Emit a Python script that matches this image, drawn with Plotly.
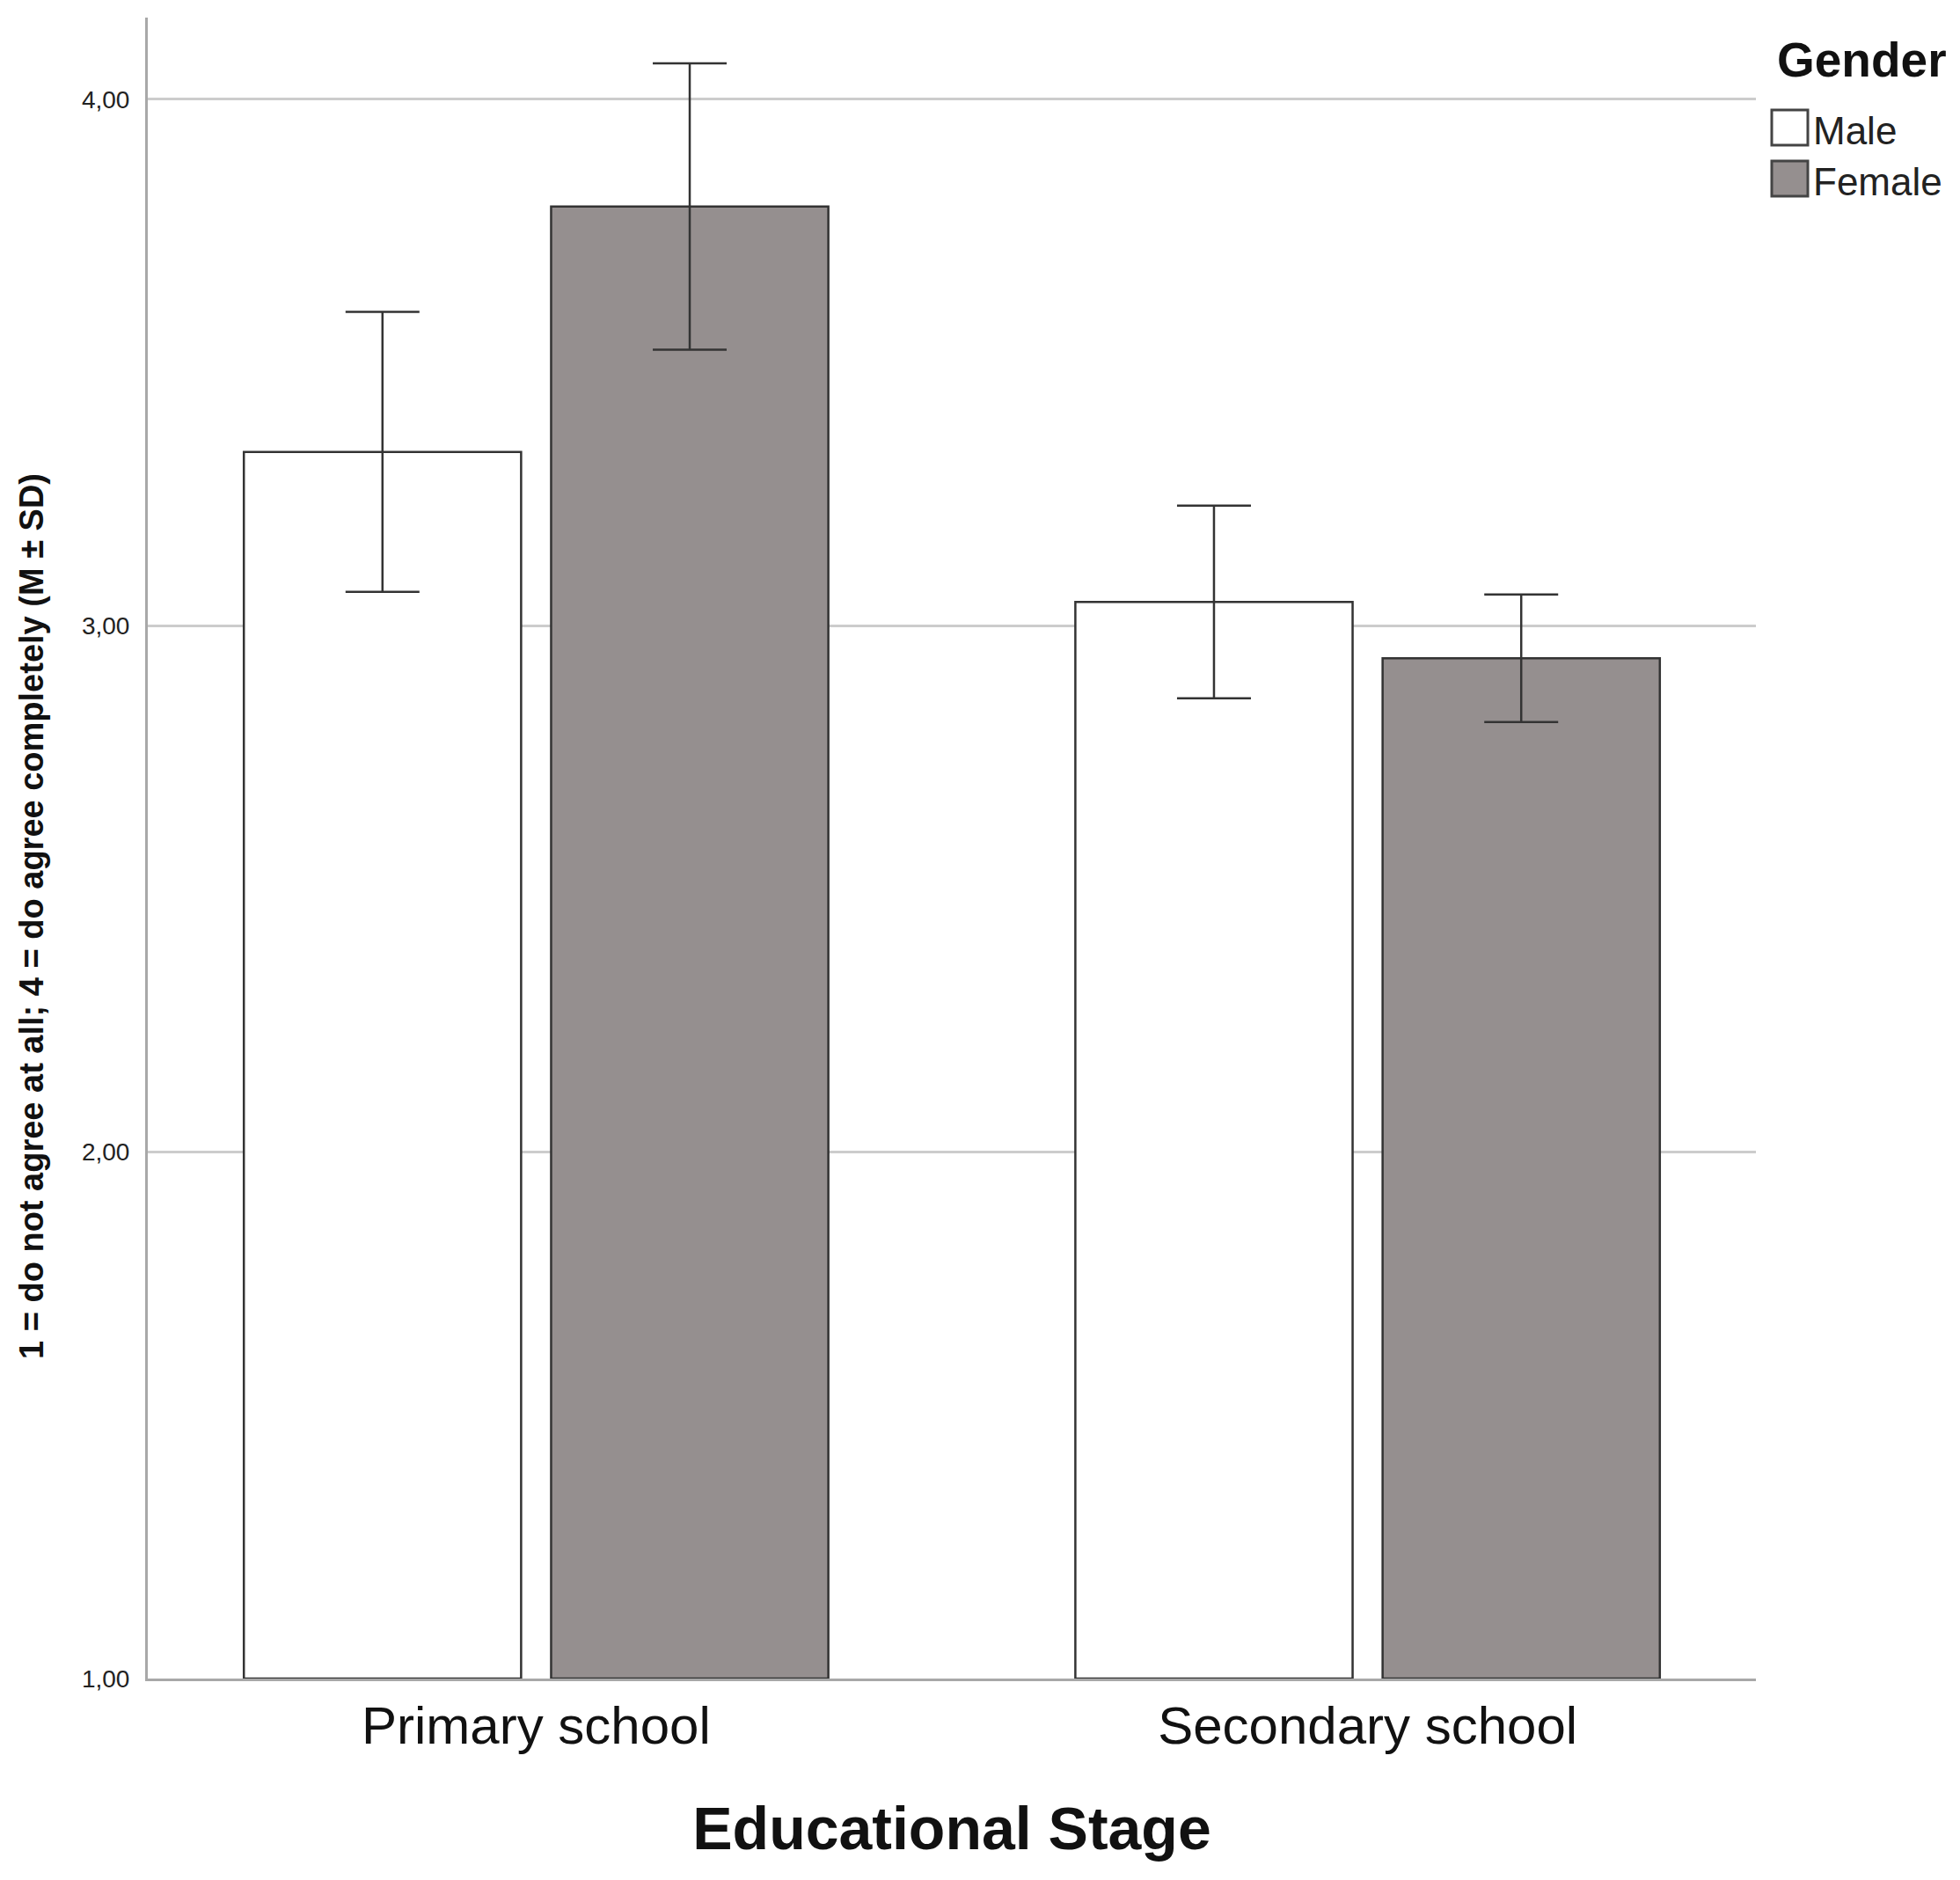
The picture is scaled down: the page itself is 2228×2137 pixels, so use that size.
import plotly.graph_objects as go

# ---- data ----
stages = ["Primary school", "Secondary school"]
male_mean = [3.33, 3.045]
male_sd = [0.266, 0.183]
female_mean = [3.796, 2.938]
female_sd = [0.272, 0.121]
tick_vals = [1, 2, 3, 4]
tick_text = ["1,00", "2,00", "3,00", "4,00"]

FONT = "Liberation Sans, Arial, sans-serif"
FEMALE_FILL = "#958f8f"
EDGE = "#333333"

W, H = 2228, 2137
OFF = 8  # page body margin
L, R, T, B = 160, 240, 12, 237

fig = go.Figure()
fig.add_trace(go.Bar(
    name="Male", x=stages, y=[m - 1 for m in male_mean], base=1,
    marker=dict(color="white", line=dict(color=EDGE, width=2.5)),
    error_y=dict(type="data", array=male_sd, color=EDGE, thickness=2.5, width=42),
    showlegend=False,
))
fig.add_trace(go.Bar(
    name="Female", x=stages, y=[m - 1 for m in female_mean], base=1,
    marker=dict(color=FEMALE_FILL, line=dict(color=EDGE, width=2.5)),
    error_y=dict(type="data", array=female_sd, color=EDGE, thickness=2.5, width=42),
    showlegend=False,
))

pw, ph = W - L - R, H - T - B
def px(x):
    return (x - OFF - L) / pw
def py(y):
    return (H - B + OFF - y) / ph

fig.update_layout(
    width=W, height=H,
    margin=dict(l=L, r=R, t=T, b=B),
    paper_bgcolor="white", plot_bgcolor="white",
    barmode="group", bargap=0.261, bargroupgap=0.0976,
    font=dict(family=FONT, color="#111111"),
    xaxis=dict(
        type="category", range=[-0.467, 1.467],
        showgrid=False, showline=True, linecolor="#a8a8a8", linewidth=3,
        ticks="", tickfont=dict(size=60, family=FONT, color="#111111"),
        ticklabelstandoff=-1,
        title=dict(text="<b>Educational Stage</b>", font=dict(size=68, family=FONT, color="#111111"),
                   standoff=61),
    ),
    yaxis=dict(
        range=[1, 4.155], tickvals=tick_vals, ticktext=tick_text,
        showgrid=True, gridcolor="#cccccc", gridwidth=2.5,
        showline=True, linecolor="#a8a8a8", linewidth=3,
        zeroline=False, ticks="",
        tickfont=dict(size=28, family=FONT, color="#222222"),
        ticklabelstandoff=12,
    ),
)

annotations = [
    dict(text="<b>1 = do not agree at all; 4 = do agree completely (M ± SD)</b>",
         xref="paper", yref="paper", x=px(36), y=py(1042), xanchor="center", yanchor="middle",
         textangle=-90, showarrow=False, font=dict(size=38, family=FONT, color="#111111")),
    dict(text="<b>Gender</b>", xref="paper", yref="paper", x=px(2018), y=py(68),
         xanchor="left", yanchor="middle", showarrow=False,
         font=dict(size=55, family=FONT, color="#111111")),
    dict(text="Male", xref="paper", yref="paper", x=px(2059), y=py(148),
         xanchor="left", yanchor="middle", showarrow=False,
         font=dict(size=44, family=FONT, color="#222222")),
    dict(text="Female", xref="paper", yref="paper", x=px(2059), y=py(206),
         xanchor="left", yanchor="middle", showarrow=False,
         font=dict(size=44, family=FONT, color="#222222")),
]
fig.update_layout(annotations=annotations)

fig.add_shape(type="rect", xref="paper", yref="paper",
              x0=px(2014), x1=px(2055), y0=py(125), y1=py(165),
              fillcolor="white", line=dict(color="#444444", width=3))
fig.add_shape(type="rect", xref="paper", yref="paper",
              x0=px(2014), x1=px(2055), y0=py(183), y1=py(223),
              fillcolor=FEMALE_FILL, line=dict(color="#444444", width=3))

fig.write_html("out.html")
